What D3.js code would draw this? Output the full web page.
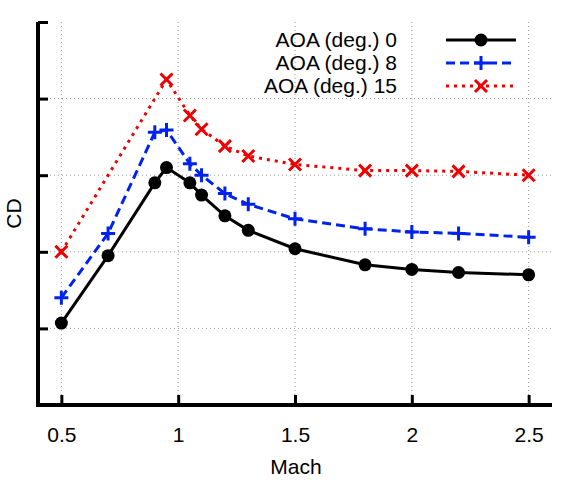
<!DOCTYPE html>
<html><head><meta charset="utf-8">
<script src="https://cdn.jsdelivr.net/npm/d3@7"></script>
<style>body{margin:0;background:#fff}text{font-family:"Liberation Sans",Arial,sans-serif}</style>
</head><body><svg id="c" width="575" height="485"></svg>
<script>
const xTicks=[0.5,1,1.5,2,2.5];
const xTickLabels=["0.5","1","1.5","2","2.5"];
const yTicks=[0,1,2,3,4,5];
const series=[
 {name:"AOA (deg.) 0",color:"#000",dash:null,marker:"circle",
  x:[0.5,0.7,0.9,0.95,1.05,1.1,1.2,1.3,1.5,1.8,2.0,2.2,2.5],
  y:[1.07,1.95,2.9,3.1,2.9,2.74,2.47,2.28,2.04,1.83,1.77,1.73,1.70]},
 {name:"AOA (deg.) 8",color:"#0022ee",dash:"9,5",marker:"plus",
  x:[0.5,0.7,0.9,0.95,1.05,1.1,1.2,1.3,1.5,1.8,2.0,2.2,2.5],
  y:[1.40,2.24,3.56,3.59,3.15,3.0,2.76,2.62,2.43,2.30,2.26,2.24,2.19]},
 {name:"AOA (deg.) 15",color:"#ee0000",dash:"3,5",marker:"cross",
  x:[0.5,0.95,1.05,1.1,1.2,1.3,1.5,1.8,2.0,2.2,2.5],
  y:[2.0,4.25,3.78,3.6,3.38,3.25,3.14,3.06,3.06,3.05,3.0]}
];
const svg=d3.select("#c");
const L=38,R=552,T=22,B=405;
const x=d3.scaleLinear().domain([0.4,2.6]).range([L,R]);
const y=d3.scaleLinear().domain([0,5]).range([B,T]);
const g=svg.append("g");
xTicks.forEach(v=>g.append("line").attr("x1",x(v)).attr("x2",x(v)).attr("y1",T).attr("y2",B).attr("stroke","#999").attr("stroke-dasharray","1,3"));
yTicks.slice(1,5).forEach(v=>g.append("line").attr("x1",L).attr("x2",R).attr("y1",y(v)).attr("y2",y(v)).attr("stroke","#999").attr("stroke-dasharray","1,3"));
const xa=svg.append("g").attr("transform",`translate(0,${B})`).call(d3.axisBottom(x).tickValues(xTicks).tickFormat((d,i)=>xTickLabels[i]).tickSize(-10).tickPadding(22));
xa.select(".domain").remove();
xa.selectAll("line").attr("stroke-width",3);
xa.selectAll("text").attr("font-size",21).attr("fill","#000");
const ya=svg.append("g").attr("transform",`translate(${L},0)`).call(d3.axisLeft(y).tickValues(yTicks).tickFormat("").tickSize(-10));
ya.select(".domain").remove();
ya.selectAll("line").attr("stroke-width",3);
svg.append("path").attr("d",`M${L},${T}V${B}H${R}`).attr("fill","none").attr("stroke","#000").attr("stroke-width",4);
svg.append("text").attr("x",296).attr("y",474).attr("text-anchor","middle").attr("font-size",21).text("Mach");
svg.append("text").attr("transform",`translate(21,${(T+B)/2}) rotate(-90)`).attr("text-anchor","middle").attr("font-size",21).text("CD");
function marker(sel,type,cx,cy,color){
 if(type==="circle") sel.append("circle").attr("cx",cx).attr("cy",cy).attr("r",6.5).attr("fill",color);
 else if(type==="plus") sel.append("path").attr("d",`M${cx-7},${cy}H${cx+7}M${cx},${cy-7}V${cy+7}`).attr("stroke",color).attr("stroke-width",3);
 else sel.append("path").attr("d",`M${cx-6},${cy-6}L${cx+6},${cy+6}M${cx-6},${cy+6}L${cx+6},${cy-6}`).attr("stroke",color).attr("stroke-width",3);
}
const line=d3.line().x(d=>x(d[0])).y(d=>y(d[1]));
series.forEach((s,i)=>{
 const pts=s.x.map((v,j)=>[v,s.y[j]]);
 svg.append("path").attr("d",line(pts)).attr("fill","none").attr("stroke",s.color).attr("stroke-width",3).attr("stroke-dasharray",s.dash);
 pts.forEach(p=>marker(svg,s.marker,x(p[0]),y(p[1]),s.color));
 const ly=40+i*23;
 svg.append("text").attr("x",397).attr("y",ly+7).attr("text-anchor","end").attr("font-size",21).text(s.name);
 svg.append("line").attr("x1",446).attr("x2",516).attr("y1",ly).attr("y2",ly).attr("stroke",s.color).attr("stroke-width",3).attr("stroke-dasharray",s.dash);
 marker(svg,s.marker,481,ly,s.color);
});
</script></body></html>
